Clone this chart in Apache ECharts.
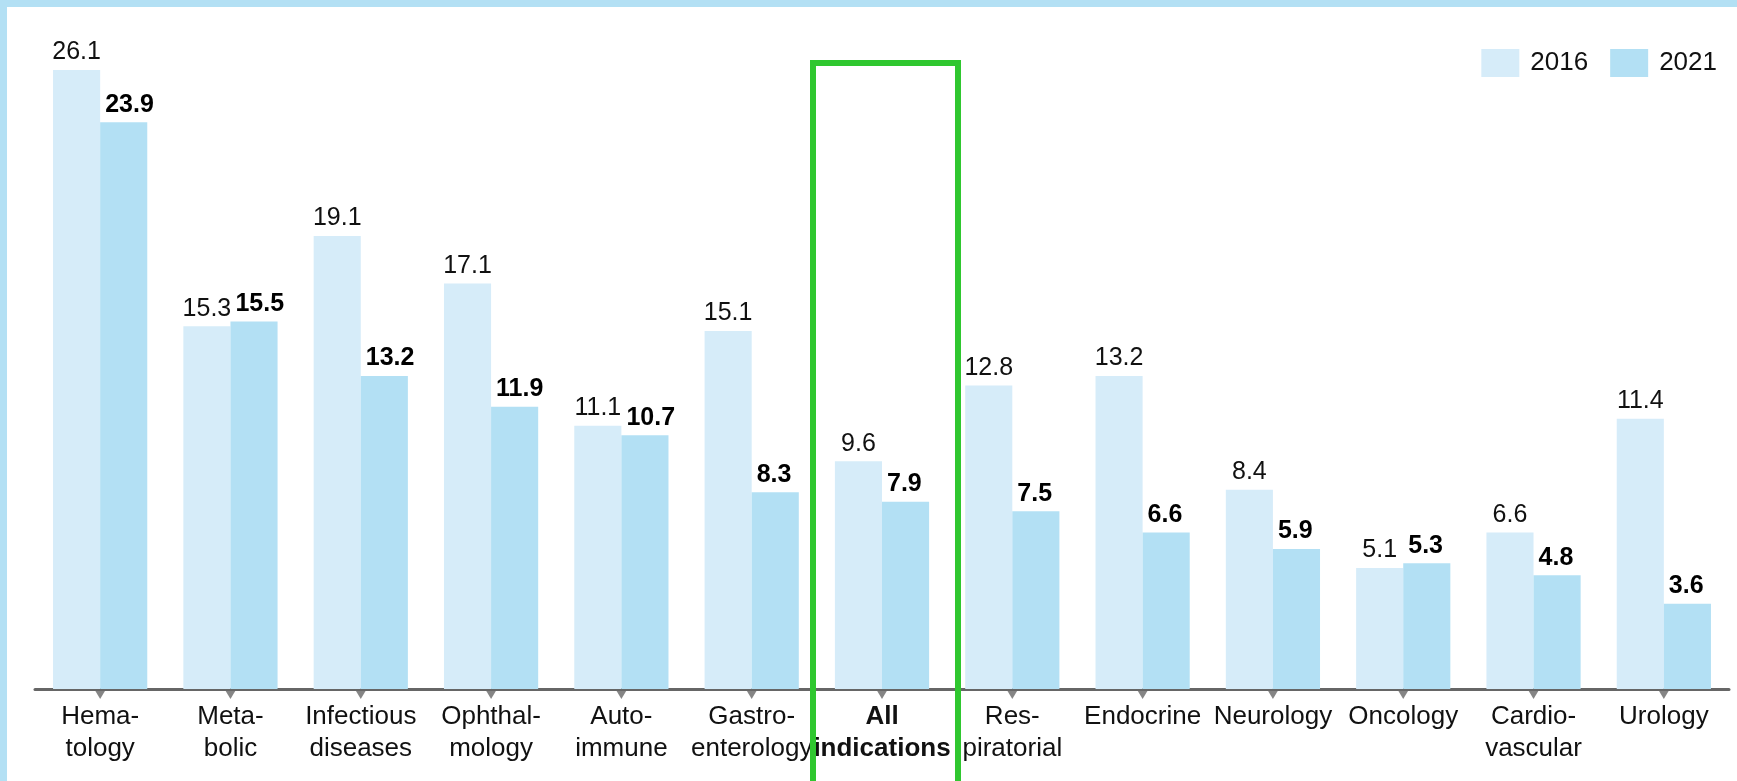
<!DOCTYPE html>
<html>
<head>
<meta charset="utf-8">
<script src="https://cdn.jsdelivr.net/npm/echarts@6/dist/echarts.min.js"></script>
<style>
  html, body { margin: 0; padding: 0; background: #ffffff; }
  #chart { width: 1737px; height: 781px; }
</style>
</head>
<body>
<div id="chart"></div>
<script>
// ---- Data ----
const categories = [
  'Hema-\ntology', 'Meta-\nbolic', 'Infectious\ndiseases', 'Ophthal-\nmology',
  'Auto-\nimmune', 'Gastro-\nenterology', 'All\nindications', 'Res-\npiratorial',
  'Endocrine', 'Neurology', 'Oncology', 'Cardio-\nvascular', 'Urology'
];
const seriesNames = ['2016', '2021'];
const values2016 = [26.1, 15.3, 19.1, 17.1, 11.1, 15.1, 9.6, 12.8, 13.2, 8.4, 5.1, 6.6, 11.4];
const values2021 = [23.9, 15.5, 13.2, 11.9, 10.7, 8.3, 7.9, 7.5, 6.6, 5.9, 5.3, 4.8, 3.6];
const highlightCategory = 'All\nindications';

// ---- Styles ----
const C2016 = '#d6ecf9';
const C2021 = '#b3e0f4';
const FRAME = '#b3e0f4';
const AXIS = '#666666';
const GREEN = '#2fc72f';
const FONT = '"Liberation Sans", Arial, sans-serif';

const chart = echarts.init(document.getElementById('chart'), null, { renderer: 'canvas' });

const tickMarks = categories.map(c => [c, 0]);

const frame = [
  { type: 'rect', shape: { x: 0, y: 0, width: 1737, height: 7 }, style: { fill: FRAME }, z: 100 },
  { type: 'rect', shape: { x: 0, y: 0, width: 7, height: 781 }, style: { fill: FRAME }, z: 100 }
];

const option = {
  backgroundColor: '#ffffff',
  animation: false,
  textStyle: { fontFamily: FONT },
  grid: { left: 35, right: 8, top: 25, bottom: 92, containLabel: false },
  legend: {
    data: seriesNames,
    right: 15,
    top: 44,
    itemWidth: 38,
    itemHeight: 28,
    itemGap: 22,
    icon: 'rect',
    textStyle: { fontSize: 26, color: '#111', fontFamily: FONT, padding: [0, 0, 0, 6] }
  },
  xAxis: {
    type: 'category',
    data: categories,
    axisLine: { show: true, lineStyle: { color: AXIS, width: 3 } },
    axisTick: { show: false },
    axisLabel: {
      interval: 0,
      margin: 12,
      fontSize: 26,
      lineHeight: 32,
      color: '#111',
      fontFamily: FONT,
      formatter: function (v) {
        if (v === highlightCategory) {
          return v.split('\n').map(s => '{b|' + s + '}').join('\n');
        }
        return v;
      },
      rich: {
        b: { fontWeight: 'bold', fontSize: 26, lineHeight: 32, color: '#111', fontFamily: FONT }
      }
    }
  },
  yAxis: {
    type: 'value',
    min: 0,
    max: 28,
    show: false,
    splitLine: { show: false }
  },
  series: [
    {
      name: seriesNames[0],
      type: 'bar',
      data: values2016,
      barGap: '0%',
      barCategoryGap: '27.7%',
      itemStyle: { color: C2016 },
      label: {
        show: true, position: 'top', distance: 5,
        fontSize: 25, color: '#111', fontFamily: FONT,
        formatter: p => p.value.toFixed(1)
      }
    },
    {
      name: seriesNames[1],
      type: 'bar',
      data: values2021,
      barGap: '0%',
      barCategoryGap: '27.7%',
      itemStyle: { color: C2021 },
      label: {
        show: true, position: [5, -5], align: 'left', verticalAlign: 'bottom',
        fontSize: 25, fontWeight: 'bold', color: '#000', fontFamily: FONT,
        formatter: p => p.value.toFixed(1)
      }
    },
    {
      name: 'ticks',
      type: 'scatter',
      data: tickMarks,
      symbol: 'triangle',
      symbolSize: [12, 10],
      symbolRotate: 180,
      symbolOffset: [0, 5],
      itemStyle: { color: AXIS },
      clip: false,
      silent: true,
      z: 5
    }
  ],
  graphic: frame
};

chart.setOption(option);

// Highlight box around the "All indications" category, positioned from the axis scale
const cx = chart.convertToPixel({ xAxisIndex: 0 }, highlightCategory);
chart.setOption({
  graphic: frame.concat([
    {
      type: 'rect',
      shape: { x: cx - 69, y: 63, width: 145, height: 760 },
      style: { fill: 'none', stroke: GREEN, lineWidth: 6 },
      z: 101
    }
  ])
});
</script>
</body>
</html>
